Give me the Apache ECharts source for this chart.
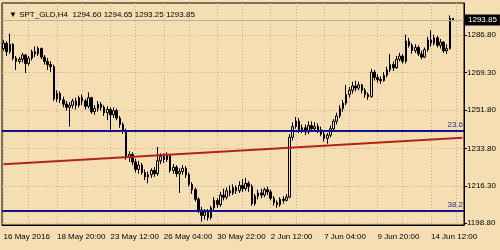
<!DOCTYPE html>
<html>
<head>
<meta charset="utf-8">
<script src="https://cdn.jsdelivr.net/npm/echarts/dist/echarts.min.js"></script>
<style>
    html, body {margin: 0; padding: 0; background: #f5deb3;}
    #main {width: 500px; height: 250px;}
</style>
</head>
<body>
<div id="main"></div>
<script>
const symbolTitle = '\u25BC SPT_GLD,H4  1294.60 1294.65 1293.25 1293.85'

// H4 bars, [open, close, low, high]
const candles = [
    [1280.5, 1283.0, 1279.5, 1284.5], [1283.0, 1279.0, 1277.0, 1284.0], [1279.0, 1282.5, 1278.0, 1287.5],
    [1282.5, 1276.0, 1275.0, 1283.0], [1276.0, 1274.5, 1270.5, 1277.0], [1274.5, 1275.5, 1273.5, 1276.5],
    [1275.5, 1277.5, 1274.0, 1278.5], [1277.5, 1273.5, 1269.0, 1278.0], [1273.5, 1276.0, 1272.5, 1277.0],
    [1276.0, 1279.0, 1275.0, 1280.0], [1279.0, 1278.0, 1276.5, 1281.5], [1278.0, 1280.5, 1277.0, 1281.5],
    [1280.5, 1276.5, 1275.5, 1281.0], [1276.5, 1274.5, 1273.0, 1277.5], [1274.5, 1273.0, 1270.5, 1276.0],
    [1273.0, 1272.0, 1269.5, 1274.5], [1272.0, 1257.0, 1256.0, 1273.0], [1257.0, 1259.5, 1255.5, 1261.0],
    [1259.5, 1256.5, 1255.0, 1260.5], [1256.5, 1254.5, 1253.0, 1258.0], [1254.5, 1253.0, 1251.5, 1256.0],
    [1253.0, 1254.0, 1244.0, 1255.5], [1254.0, 1256.0, 1252.5, 1257.0], [1256.0, 1254.0, 1252.0, 1257.5],
    [1254.0, 1257.5, 1253.0, 1258.5], [1257.5, 1256.0, 1254.0, 1259.0], [1256.0, 1253.5, 1252.0, 1257.0],
    [1253.5, 1257.5, 1252.5, 1260.0], [1257.5, 1251.0, 1250.0, 1258.0], [1251.0, 1252.5, 1249.5, 1254.0],
    [1252.5, 1254.5, 1251.0, 1256.0], [1254.5, 1253.0, 1251.5, 1255.5], [1253.0, 1250.5, 1249.0, 1254.0],
    [1250.5, 1252.0, 1247.0, 1253.5], [1252.0, 1249.5, 1242.5, 1253.0], [1249.5, 1251.5, 1248.0, 1253.0],
    [1251.5, 1248.0, 1247.0, 1252.5], [1248.0, 1245.0, 1243.5, 1249.0], [1245.0, 1242.0, 1240.5, 1246.0],
    [1242.0, 1229.5, 1228.5, 1243.0], [1229.5, 1231.0, 1227.5, 1232.5], [1231.0, 1227.5, 1226.0, 1232.0],
    [1227.5, 1224.0, 1222.5, 1229.0], [1224.0, 1226.0, 1222.0, 1228.0], [1226.0, 1222.5, 1221.5, 1227.0],
    [1222.5, 1220.5, 1219.0, 1224.0], [1220.5, 1221.5, 1217.5, 1223.0], [1221.5, 1223.5, 1220.0, 1224.5],
    [1223.5, 1222.0, 1220.5, 1225.0], [1222.0, 1228.0, 1221.0, 1234.5], [1228.0, 1230.0, 1226.5, 1231.5],
    [1230.0, 1228.5, 1227.0, 1231.5], [1228.5, 1230.5, 1227.5, 1232.0], [1230.5, 1223.5, 1222.5, 1231.0],
    [1223.5, 1225.0, 1222.0, 1226.5], [1225.0, 1222.0, 1220.5, 1226.0], [1222.0, 1223.0, 1213.0, 1224.5],
    [1223.0, 1224.5, 1221.5, 1226.0], [1224.5, 1221.5, 1220.0, 1225.5], [1221.5, 1217.0, 1216.0, 1222.5],
    [1217.0, 1214.5, 1212.5, 1218.0], [1214.5, 1210.0, 1209.0, 1215.5], [1210.0, 1205.0, 1203.5, 1211.0],
    [1205.0, 1202.5, 1199.5, 1206.5], [1202.5, 1204.0, 1200.5, 1205.5], [1204.0, 1201.5, 1200.0, 1205.5],
    [1201.5, 1206.0, 1200.5, 1207.0], [1206.0, 1209.5, 1205.0, 1211.0], [1209.5, 1207.5, 1206.0, 1210.5],
    [1207.5, 1212.0, 1206.5, 1213.5], [1212.0, 1211.0, 1209.5, 1215.0], [1211.0, 1214.0, 1210.0, 1215.5],
    [1214.0, 1213.0, 1211.5, 1216.5], [1213.0, 1215.5, 1212.0, 1217.0], [1215.5, 1214.0, 1212.5, 1216.5],
    [1214.0, 1216.5, 1213.0, 1218.5], [1216.5, 1215.0, 1213.5, 1219.5], [1215.0, 1217.5, 1214.0, 1220.0],
    [1217.5, 1216.0, 1213.5, 1218.5], [1216.0, 1208.0, 1207.0, 1217.0], [1208.0, 1211.5, 1207.0, 1212.5],
    [1211.5, 1213.0, 1210.0, 1214.5], [1213.0, 1212.0, 1210.5, 1215.0], [1212.0, 1214.5, 1211.0, 1215.5],
    [1214.5, 1213.5, 1212.0, 1216.0], [1213.5, 1210.5, 1209.5, 1214.5], [1210.5, 1208.5, 1207.0, 1211.5],
    [1208.5, 1207.5, 1206.0, 1209.5], [1207.5, 1210.0, 1206.5, 1211.0], [1210.0, 1209.5, 1208.0, 1211.5],
    [1209.5, 1211.0, 1209.0, 1212.5], [1211.0, 1239.0, 1210.5, 1240.5], [1239.0, 1244.0, 1237.5, 1246.0],
    [1244.0, 1246.5, 1243.0, 1248.5], [1246.5, 1242.5, 1241.0, 1248.0], [1242.5, 1243.5, 1241.0, 1245.0],
    [1243.5, 1241.5, 1240.0, 1245.0], [1241.5, 1244.5, 1240.5, 1246.5], [1244.5, 1243.0, 1241.5, 1246.5],
    [1243.0, 1244.0, 1242.0, 1246.0], [1244.0, 1242.5, 1241.0, 1245.5], [1242.5, 1240.5, 1239.5, 1244.0],
    [1240.5, 1238.5, 1237.0, 1242.0], [1238.5, 1240.0, 1236.0, 1241.0], [1240.0, 1243.0, 1239.0, 1244.5],
    [1243.0, 1246.5, 1242.0, 1247.5], [1246.5, 1249.0, 1245.0, 1250.5], [1249.0, 1252.5, 1248.0, 1254.0],
    [1252.5, 1255.0, 1251.0, 1256.5], [1255.0, 1259.0, 1254.0, 1263.5], [1259.0, 1261.0, 1257.5, 1262.5],
    [1261.0, 1263.0, 1259.5, 1265.0], [1263.0, 1262.0, 1260.5, 1265.5], [1262.0, 1263.5, 1261.0, 1265.0],
    [1263.5, 1261.0, 1259.5, 1264.0], [1261.0, 1259.0, 1257.5, 1262.0], [1259.0, 1258.0, 1256.5, 1260.0],
    [1258.0, 1269.5, 1257.5, 1271.0], [1269.5, 1267.0, 1265.5, 1270.5], [1267.0, 1266.0, 1264.5, 1268.5],
    [1266.0, 1265.5, 1264.0, 1267.5], [1265.5, 1268.0, 1265.0, 1269.5], [1268.0, 1270.5, 1267.0, 1272.0],
    [1270.5, 1273.0, 1269.5, 1278.0], [1273.0, 1271.5, 1270.0, 1274.5], [1271.5, 1275.5, 1271.0, 1277.0],
    [1275.5, 1277.0, 1274.5, 1278.5], [1277.0, 1274.5, 1273.5, 1278.0], [1274.5, 1284.0, 1273.5, 1287.0],
    [1284.0, 1282.0, 1281.0, 1285.5], [1282.0, 1279.5, 1278.0, 1283.0], [1279.5, 1281.0, 1278.5, 1282.5],
    [1281.0, 1278.0, 1277.0, 1282.0], [1278.0, 1276.5, 1275.5, 1279.5], [1276.5, 1280.0, 1276.0, 1281.0],
    [1280.0, 1284.5, 1279.0, 1286.0], [1284.5, 1283.0, 1281.5, 1289.0], [1283.0, 1285.5, 1282.0, 1287.0],
    [1285.5, 1282.0, 1281.0, 1286.5], [1282.0, 1283.5, 1280.5, 1285.0], [1283.5, 1279.5, 1278.5, 1284.0],
    [1279.5, 1280.5, 1278.0, 1282.5], [1280.5, 1294.6, 1280.0, 1296.0], [1294.60, 1293.85, 1293.25, 1294.65]
]

const timeLabels = ['16 May 2016', '18 May 20:00', '23 May 12:00', '26 May 04:00', '30 May 22:00',
    '2 Jun 12:00', '7 Jun 04:00', '9 Jun 20:00', '14 Jun 12:00']
const barsPerLabel = 17
const shiftBars = 3 // empty space right of the last bar

const priceTicks = [1198.80, 1216.30, 1233.80, 1251.80, 1269.30, 1286.80]
const priceRange = {min: 1198.0, max: 1301.8}
const lastPrice = 1293.85

const fibLevels = [{name: '23.6', value: 1242.1}, {name: '38.2', value: 1204.6}]
const trendLine = [1226.4, 1238.8] // start, end of the red channel line

const fontFamily = '"Liberation Sans", Arial, sans-serif'
const bg = '#f5deb3'
const gridColor = '#c4ae88'

let barKeys = []
for (let i = 0; i < candles.length + shiftBars; i++) {
    barKeys.push(String(i))
}

const isLabelBar = (i) => i % barsPerLabel === 0 && i / barsPerLabel < timeLabels.length
const isGridBar = (i) => i % barsPerLabel === 0 || i % barsPerLabel === 8

let myChart = echarts.init(document.getElementById('main'))

let option = {
    backgroundColor: bg,
    animation: false,
    title: {
        text: symbolTitle,
        left: 4,
        top: 6,
        textStyle: {fontSize: 8, fontWeight: 'normal', color: '#000', fontFamily: fontFamily}
    },
    grid: {
        left: 2, right: 36, top: 3, bottom: 25,
        show: true, borderColor: '#000', borderWidth: 1
    },
    xAxis: {
        type: 'category',
        data: barKeys,
        boundaryGap: true,
        axisLine: {lineStyle: {color: '#000'}},
        axisTick: {
            interval: (i) => isLabelBar(i),
            alignWithLabel: true,
            length: 4,
            lineStyle: {color: '#000'}
        },
        axisLabel: {
            interval: (i) => isLabelBar(i),
            formatter: (v, i) => timeLabels[i / barsPerLabel] || '',
            align: 'left',
            margin: 8,
            fontSize: 8,
            color: '#000',
            fontFamily: fontFamily
        },
        splitLine: {
            show: true,
            interval: (i) => isGridBar(i),
            alignWithLabel: true,
            lineStyle: {color: gridColor, type: [1, 2]}
        }
    },
    yAxis: {
        type: 'value',
        position: 'right',
        min: priceRange.min,
        max: priceRange.max,
        axisLine: {show: true, lineStyle: {color: '#000'}},
        axisTick: {show: true, customValues: priceTicks, length: 3, lineStyle: {color: '#000'}},
        axisLabel: {
            customValues: priceTicks,
            formatter: v => v.toFixed(2),
            margin: 3,
            fontSize: 8,
            color: '#000',
            fontFamily: fontFamily
        },
        splitLine: {show: true, lineStyle: {color: gridColor, type: [1, 2]}}
    },
    series: [
        {
            type: 'candlestick',
            data: candles,
            barWidth: 2,
            itemStyle: {
                color: bg,
                color0: '#000',
                borderColor: '#000',
                borderColor0: '#000',
                borderWidth: 1
            },
            markLine: {
                silent: true,
                symbol: ['none', 'none'],
                data: [
                    {
                        yAxis: lastPrice,
                        lineStyle: {color: '#b9b0a2', width: 1, type: 'solid'},
                        label: {
                            position: 'end',
                            formatter: lastPrice.toFixed(2),
                            distance: 1,
                            backgroundColor: '#000',
                            color: '#fff',
                            padding: [2, 3, 1, 3],
                            fontSize: 8,
                            fontFamily: fontFamily
                        }
                    },
                    ...fibLevels.map(f => ({
                        yAxis: f.value,
                        lineStyle: {color: '#14148a', width: 2, type: 'solid'},
                        label: {
                            position: 'insideEndTop',
                            formatter: f.name,
                            distance: [1, 2],
                            color: '#2b2b8f',
                            fontSize: 8,
                            fontFamily: fontFamily
                        }
                    })),
                    [
                        {coord: [barKeys[0], trendLine[0]], lineStyle: {color: '#b3221c', width: 2, type: 'solid'}, label: {show: false}},
                        {coord: [barKeys[barKeys.length - 1], trendLine[1]]}
                    ]
                ]
            }
        }
    ]
}

myChart.setOption(option)
</script>
</body>
</html>
